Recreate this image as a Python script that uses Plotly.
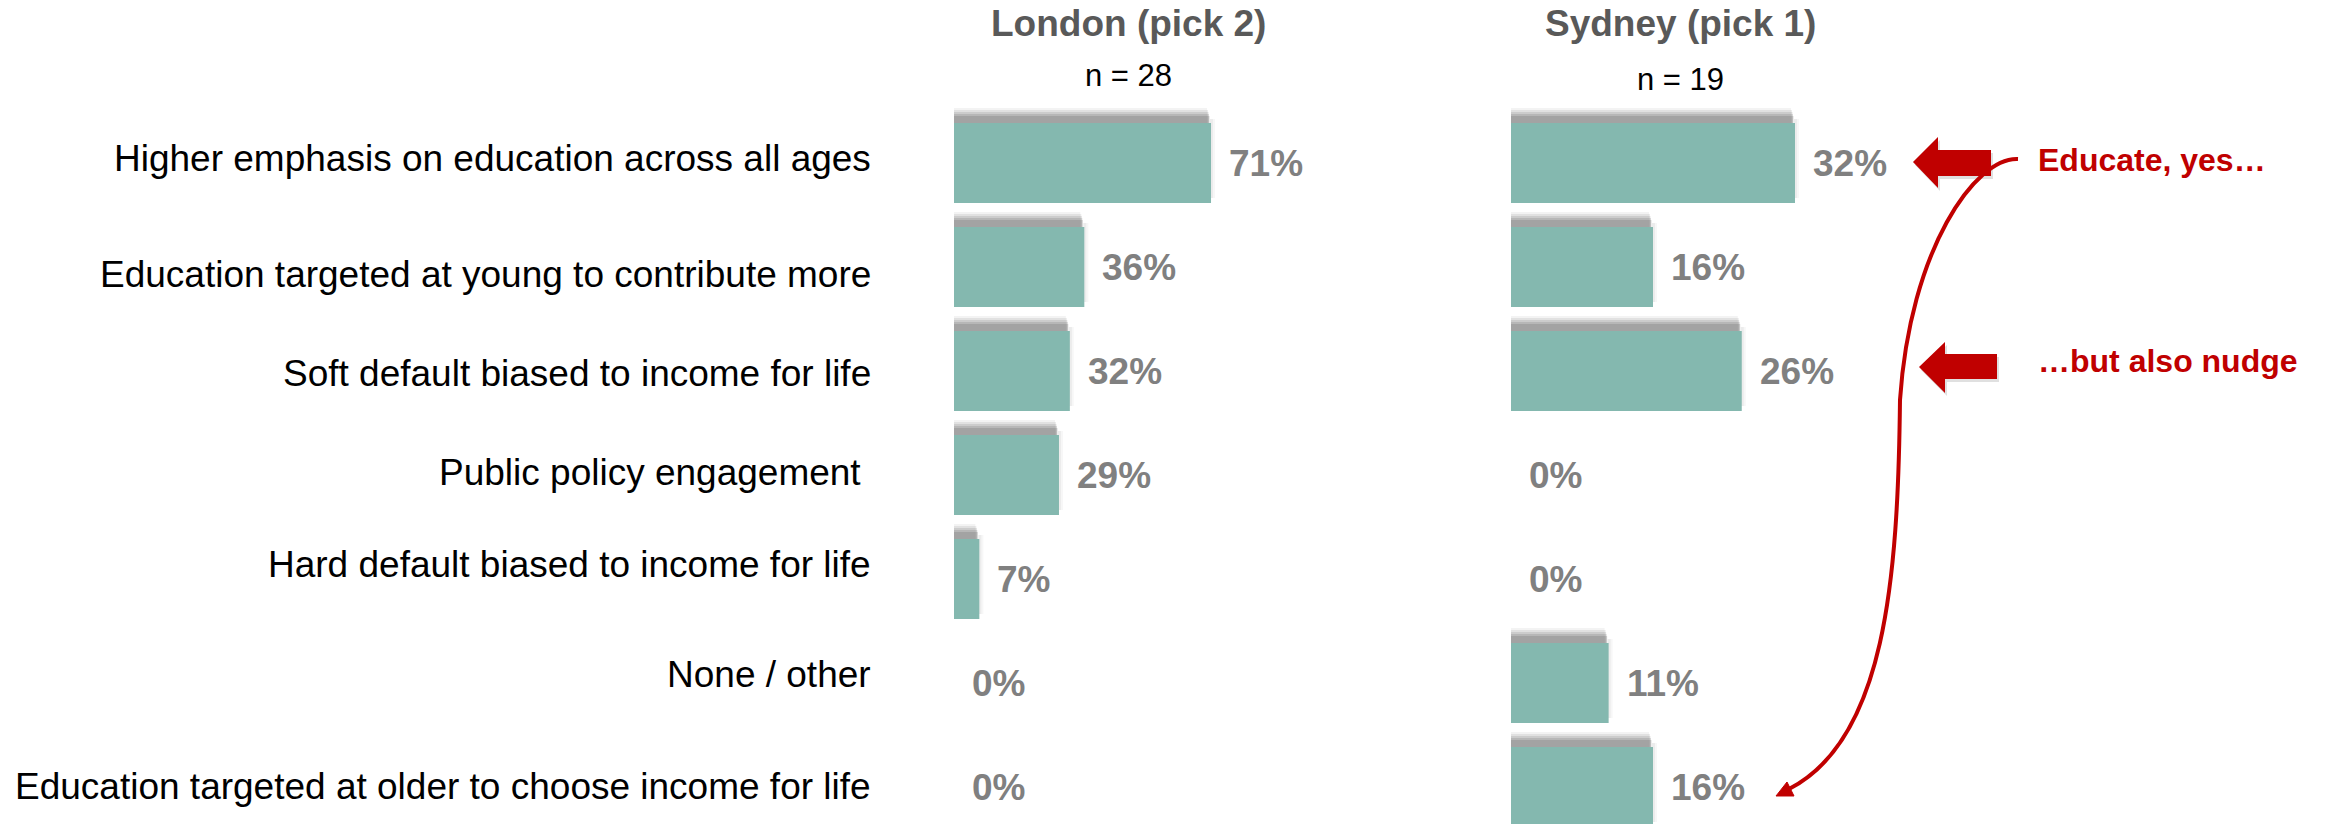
import plotly.graph_objects as go

# ---------------- data ----------------
categories = [
    "Higher emphasis on education across all ages",
    "Education targeted at young to contribute more",
    "Soft default biased to income for life",
    "Public policy engagement ",
    "Hard default biased to income for life",
    "None / other",
    "Education targeted at older to choose income for life",
]
london = [71, 36, 32, 29, 7, 0, 0]
sydney = [32, 16, 26, 0, 0, 11, 16]
london_title = "London (pick 2)"
london_n = "n = 28"
sydney_title = "Sydney (pick 1)"
sydney_n = "n = 19"
callout_top = "Educate, yes…"
callout_mid = "…but also nudge"

# ---------------- style / layout ----------------
W, H = 2328, 824
ROW_PX = 104          # pixel distance between rows
FIRST_ROW_PX = 163    # pixel centre of first row
BAR_PX = 80           # bar thickness
L0, L_END, L_PPU = 954, 1490, 3.62     # London axis start, end, px per %
S0, S_END, S_PPU = 1511, 2328, 8.875   # Sydney axis start, end, px per %
label_yshift = [5, -7, -2, 3, 15, 9, 1]

TEAL = "#84B8AF"
RED = "#C00000"
GREY_VAL = "#808080"
GREY_TITLE = "#595959"
FONT = "Arial, 'Liberation Sans', sans-serif"

rows = list(range(len(categories)))
y_range = [(H - FIRST_ROW_PX) / ROW_PX, -FIRST_ROW_PX / ROW_PX]


def P(px, py):
    return f"{px / W:.6f},{1 - py / H:.6f}"


fig = go.Figure()
fig.add_trace(go.Bar(y=rows, x=london, orientation="h", xaxis="x", yaxis="y",
                     marker=dict(color=TEAL, line=dict(width=0)),
                     width=BAR_PX / ROW_PX, hoverinfo="skip"))
fig.add_trace(go.Bar(y=rows, x=sydney, orientation="h", xaxis="x2", yaxis="y",
                     marker=dict(color=TEAL, line=dict(width=0)),
                     width=BAR_PX / ROW_PX, hoverinfo="skip"))

shapes = []
annotations = []


def add_shadow(xref, val, row, ppu):
    if val <= 0:
        return
    top = row - (BAR_PX / 2) / ROW_PX
    for h, op, inset in [(15, 0.08, 4), (13, 0.12, 3), (11, 0.16, 2.5), (9, 0.2, 2), (7, 0.24, 1.5)]:
        shapes.append(dict(type="rect", xref=xref, yref="y",
                           x0=0, x1=max(val - inset / ppu, 0.5 / ppu),
                           y0=top - h / ROW_PX, y1=top + 3 / ROW_PX,
                           fillcolor="#666666", opacity=op, line_width=0, layer="below"))
    for w, op in [(4, 0.05), (2, 0.07)]:
        shapes.append(dict(type="rect", xref=xref, yref="y",
                           x0=val - 1 / ppu, x1=val + w / ppu,
                           y0=top - 4 / ROW_PX, y1=row + (BAR_PX / 2 - 5) / ROW_PX,
                           fillcolor="#666666", opacity=op, line_width=0, layer="below"))


for xref, vals, ppu in [("x", london, L_PPU), ("x2", sydney, S_PPU)]:
    for r, v in zip(rows, vals):
        add_shadow(xref, v, r, ppu)
        annotations.append(dict(x=v, y=r, xref=xref, yref="y", text=f"<b>{v}%</b>",
                                xanchor="left", yanchor="middle", xshift=16,
                                showarrow=False,
                                font=dict(family=FONT, size=37, color=GREY_VAL)))

# category labels
for r, lab, ys in zip(rows, categories, label_yshift):
    annotations.append(dict(x=873 / W, y=r, xref="paper", yref="y",
                            text=lab.replace(" ", "\u00a0") if lab.endswith(" ") else lab,
                            xanchor="right", yanchor="middle", yshift=ys, showarrow=False,
                            font=dict(family=FONT, size=37, color="#000000")))

# column titles
for cx, ty, ny, t, n in [(1128.5, 23.5, 76, london_title, london_n),
                          (1680.5, 23, 80, sydney_title, sydney_n)]:
    annotations.append(dict(x=cx / W, y=1 - ty / H, xref="paper", yref="paper",
                            text=f"<b>{t}</b>", xanchor="center", yanchor="middle",
                            showarrow=False,
                            font=dict(family=FONT, size=37, color=GREY_TITLE)))
    annotations.append(dict(x=cx / W, y=1 - ny / H, xref="paper", yref="paper",
                            text=n, xanchor="center", yanchor="middle", showarrow=False,
                            font=dict(family=FONT, size=31, color="#000000")))

# red callouts
for ty, t in [(160, callout_top), (361, callout_mid)]:
    annotations.append(dict(x=2036 / W, y=1 - ty / H, xref="paper", yref="paper",
                            text=f"<b>{t}</b>", xanchor="left", yanchor="middle",
                            showarrow=False,
                            font=dict(family=FONT, size=32, color=RED)))

# block arrows (pointing left)
block_arrows = [
    [(1913, 162), (1938, 137), (1938, 150), (1991, 150), (1991, 176), (1938, 176), (1938, 188)],
    [(1919, 367), (1945, 342), (1945, 354), (1997, 354), (1997, 379), (1945, 379), (1945, 393)],
]
for pts in block_arrows:
    sh = "M" + " L".join(P(x + 2, y + 3) for x, y in pts) + " Z"
    shapes.append(dict(type="path", xref="paper", yref="paper", path=sh,
                       fillcolor="#000000", opacity=0.12, line_width=0))
    pth = "M" + " L".join(P(x, y) for x, y in pts) + " Z"
    shapes.append(dict(type="path", xref="paper", yref="paper", path=pth,
                       fillcolor=RED, line_width=0))

# curved arrow
curve = (f"M{P(2018, 159)} C{P(1975, 157)} {P(1910, 250)} {P(1900, 400)} "
         f"C{P(1898, 580)} {P(1885, 740)} {P(1789, 789)}")
shapes.append(dict(type="path", xref="paper", yref="paper", path=curve,
                   line=dict(color=RED, width=4)))
head = f"M{P(1776, 796)} L{P(1787, 782)} L{P(1794, 796)} Z"
shapes.append(dict(type="path", xref="paper", yref="paper", path=head,
                   fillcolor=RED, line=dict(color=RED, width=1)))

fig.update_layout(
    width=W, height=H,
    margin=dict(l=0, r=0, t=0, b=0, pad=0),
    paper_bgcolor="white", plot_bgcolor="white",
    showlegend=False, barmode="overlay",
    xaxis=dict(domain=[L0 / W, L_END / W], range=[0, (L_END - L0) / L_PPU],
               visible=False, fixedrange=True),
    xaxis2=dict(domain=[S0 / W, S_END / W], range=[0, (S_END - S0) / S_PPU],
                anchor="y", visible=False, fixedrange=True),
    yaxis=dict(domain=[0, 1], range=y_range, visible=False, fixedrange=True),
    shapes=shapes,
    annotations=annotations,
)

fig.write_html("out.html", config={"displayModeBar": False})
